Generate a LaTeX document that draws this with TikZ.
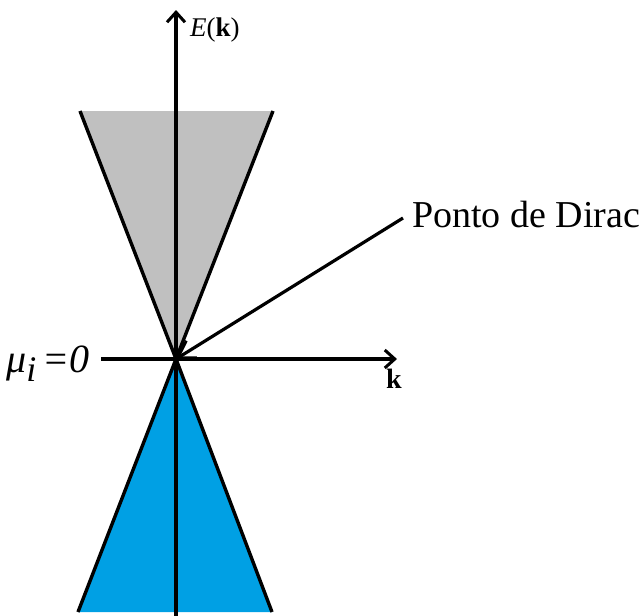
\documentclass[tikz,border=0pt]{standalone}
\usepackage{fontspec}
\setmainfont{Liberation Serif}
\usetikzlibrary{arrows.meta}
\definecolor{conegray}{RGB}{192,192,192}
\definecolor{coneblue}{RGB}{0,160,228}
\tikzset{
  axis/.style={line width=3.4pt,-{Straight Barb[length=10pt,width=18pt,line width=3pt]}},
  coneedge/.style={line width=3.4pt},
  lbl/.style={inner sep=0pt,anchor=base west}
}
\begin{document}
\begin{tikzpicture}[x=1pt,y=-1pt]
\useasboundingbox (0,0) rectangle (643,616);
\coordinate (apex) at (176,359);
% cones
\fill[conegray] (80,111) -- (apex) -- (273,111) -- cycle;
\fill[coneblue] (78,612) -- (apex) -- (272,612) -- cycle;
\draw[coneedge] (80,111) -- (apex) -- (273,111);
\draw[coneedge] (78,612) -- (apex) -- (272,612);
% axes
\coordinate (vbot) at (176,616);
\coordinate (vtop) at (176,10);
\coordinate (hleft) at (101,359);
\coordinate (hright) at (397,359);
\draw[axis] (vbot) -- (vtop);
\draw[axis] (hleft) -- (hright);
% labels
\node[lbl,font=\fontsize{27}{27}\selectfont] (E) at (190,36) {\textit{E}(\textbf{k})};
\node[lbl,font=\fontsize{28}{28}\selectfont] (k) at (386,388) {\textbf{k}};
\node[lbl,font=\fontsize{40}{40}\selectfont\itshape] (mu) at (6,372) {μ\raisebox{-9pt}{\fontsize{36}{36}\selectfont i}\,=0};
\node[lbl,font=\fontsize{38}{38}\selectfont] (dirac) at (412,227) {Ponto de Dirac};
\coordinate (pstart) at (403,218);
\draw[line width=3.2pt,-{Straight Barb[length=16pt,width=20pt,line width=2.6pt]}] (pstart) -- (apex);
\end{tikzpicture}
\end{document}
